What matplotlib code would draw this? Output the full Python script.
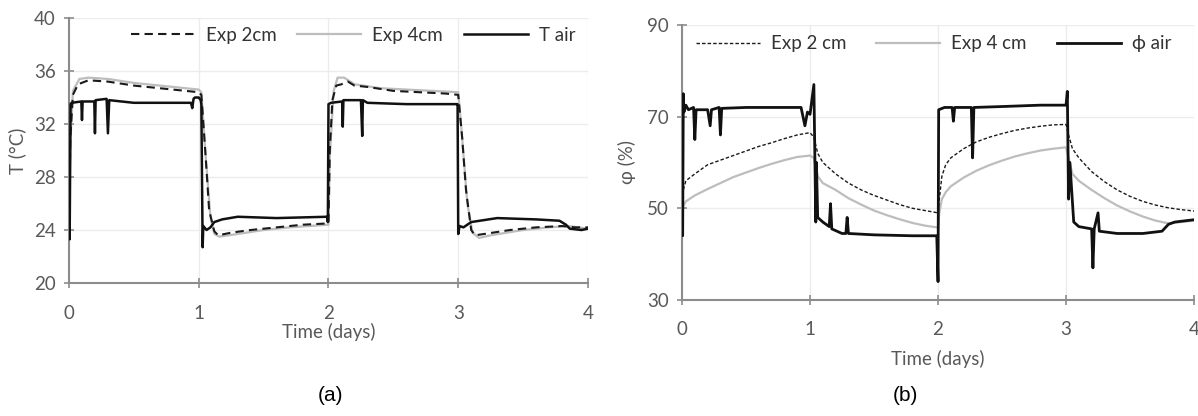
import matplotlib.pyplot as plt

plt.rcParams["font.family"] = ["Lato", "DejaVu Sans"]

# ---- (a) temperature ----
tair_t = [0, 0.005, 0.012, 0.02, 0.095, 0.1, 0.105, 0.195, 0.2, 0.205, 0.29, 0.3, 0.31,
          0.5, 0.7, 0.94, 0.95, 0.96, 0.97, 1.0, 1.015, 1.02, 1.03, 1.035, 1.06, 1.09,
          1.12, 1.18, 1.3, 1.6, 1.99, 1.995, 2.0, 2.02, 2.105, 2.11, 2.115, 2.25, 2.26,
          2.265, 2.3, 2.6, 2.99, 2.995, 3.0, 3.01, 3.04, 3.1, 3.3, 3.6, 3.78, 3.83,
          3.86, 3.95, 4.0]
tair_v = [24.0, 23.3, 33.5, 33.6, 33.7, 32.3, 33.7, 33.7, 31.3, 33.8, 33.9, 31.3, 33.8,
          33.6, 33.6, 33.6, 33.2, 33.9, 34.0, 34.0, 33.8, 33.5, 22.7, 24.3, 24.0, 24.2,
          24.6, 24.8, 25.0, 24.9, 25.0, 24.6, 33.5, 33.6, 33.7, 31.8, 33.8, 33.8, 31.1,
          33.8, 33.6, 33.5, 33.5, 33.5, 23.7, 24.3, 24.2, 24.6, 24.9, 24.8, 24.7, 24.4,
          24.1, 24.0, 24.1]

exp2_t = [0, 0.01, 0.03, 0.07, 0.15, 0.3, 0.5, 0.7, 0.9, 1.0, 1.02, 1.05, 1.08, 1.12,
          1.15, 1.25, 1.4, 1.6, 1.8, 2.0, 2.01, 2.03, 2.06, 2.1, 2.15, 2.2, 2.3, 2.5,
          2.7, 2.9, 3.0, 3.03, 3.06, 3.1, 3.13, 3.2, 3.4, 3.6, 3.8, 3.9, 4.0]
exp2_v = [24.0, 31.0, 34.2, 35.0, 35.3, 35.2, 34.9, 34.7, 34.5, 34.4, 34.2, 30.0, 25.5,
          23.9, 23.6, 23.8, 24.0, 24.2, 24.4, 24.5, 30.0, 33.8, 34.9, 35.0, 35.2, 34.9,
          34.8, 34.5, 34.4, 34.3, 34.2, 31.0, 27.0, 24.0, 23.6, 23.7, 24.0, 24.2, 24.3,
          24.2, 24.2]

exp4_t = [0, 0.01, 0.03, 0.08, 0.15, 0.3, 0.5, 0.7, 0.9, 1.0, 1.02, 1.05, 1.09, 1.12,
          1.16, 1.3, 1.5, 1.7, 2.0, 2.01, 2.04, 2.07, 2.12, 2.2, 2.4, 2.6, 2.8, 3.0,
          3.03, 3.07, 3.11, 3.16, 3.25, 3.5, 3.7, 3.85, 4.0]
exp4_v = [24.0, 30.5, 34.5, 35.4, 35.5, 35.4, 35.1, 34.9, 34.7, 34.6, 34.4, 30.0, 25.0,
          23.7, 23.5, 23.7, 24.0, 24.2, 24.4, 29.5, 34.5, 35.5, 35.5, 35.0, 34.7, 34.6,
          34.5, 34.4, 31.0, 26.0, 23.8, 23.4, 23.6, 24.0, 24.2, 24.3, 24.1]

# ---- (b) relative humidity ----
rair_t = [0, 0.005, 0.01, 0.015, 0.03, 0.05, 0.09, 0.1, 0.11, 0.2, 0.22, 0.23, 0.29,
          0.3, 0.31, 0.5, 0.7, 0.93, 0.96, 0.98, 1.0, 1.03, 1.045, 1.05, 1.06, 1.1,
          1.15, 1.16, 1.17, 1.25, 1.28, 1.29, 1.3, 1.5, 1.8, 1.99, 2.0, 2.005, 2.05,
          2.11, 2.12, 2.13, 2.26, 2.27, 2.28, 2.5, 2.8, 3.0, 3.01, 3.02, 3.03, 3.06,
          3.1, 3.2, 3.21, 3.22, 3.25, 3.26, 3.4, 3.6, 3.75, 3.8, 3.85, 4.0]
rair_v = [48, 44, 75, 71, 72.5, 71.5, 72, 65, 71.5, 71.5, 68, 71.5, 72, 66, 71.8, 72,
          72, 72, 68, 71, 70.5, 77, 47, 60, 48, 47, 46, 51, 45.5, 44.5, 44.5, 48, 44.5,
          44.2, 44, 44, 34, 71.5, 72, 72, 69, 72, 72, 61, 72, 72.2, 72.5, 72.5, 75.5,
          52, 60, 47, 46, 45.5, 37, 45.5, 49, 45, 44.5, 44.5, 45, 46.5, 47, 47.5]

rh2_t = [0, 0.01, 0.03, 0.1, 0.2, 0.3, 0.4, 0.5, 0.6, 0.7, 0.8, 0.9, 1.0, 1.03, 1.06,
         1.1, 1.2, 1.3, 1.4, 1.5, 1.6, 1.7, 1.8, 1.9, 2.0, 2.01, 2.03, 2.06, 2.1, 2.2,
         2.3, 2.4, 2.5, 2.6, 2.7, 2.8, 2.9, 3.0, 3.02, 3.05, 3.1, 3.2, 3.3, 3.4, 3.5,
         3.6, 3.7, 3.8, 3.9, 4.0]
rh2_v = [48, 54, 56, 57.5, 59.5, 60.5, 61.5, 62.5, 63.5, 64.3, 65.2, 66, 66.5, 65.5, 62,
         60, 57.5, 55.5, 54, 52.8, 51.8, 50.8, 50, 49.5, 49, 52, 57, 59.5, 61, 63, 64.5,
         65.5, 66.3, 67, 67.5, 67.9, 68.2, 68.3, 66, 63, 61, 58, 55.8, 54, 52.6, 51.5,
         50.7, 50.1, 49.7, 49.4]

rh4_t = [0, 0.01, 0.03, 0.1, 0.2, 0.3, 0.4, 0.5, 0.6, 0.7, 0.8, 0.9, 1.0, 1.03, 1.06,
         1.1, 1.2, 1.3, 1.4, 1.5, 1.6, 1.7, 1.8, 1.9, 2.0, 2.01, 2.03, 2.06, 2.1, 2.2,
         2.3, 2.4, 2.5, 2.6, 2.7, 2.8, 2.9, 3.0, 3.02, 3.05, 3.1, 3.2, 3.3, 3.4, 3.5,
         3.6, 3.7, 3.8, 3.9, 4.0]
rh4_v = [48, 50.5, 51.5, 52.8, 54.2, 55.5, 56.8, 57.8, 58.8, 59.7, 60.5, 61.2, 61.5, 61.0,
         57, 55.5, 54, 52.2, 50.8, 49.5, 48.5, 47.6, 46.8, 46.2, 45.8, 49, 52, 53.5, 54.8,
         56.7, 58.2, 59.4, 60.4, 61.3, 62, 62.6, 63, 63.3, 61, 57.5, 56, 54, 52.2, 50.6,
         49.3, 48.2, 47.3, 46.7, 47.0, 47.3]

gray = "#bdbdbd"
axis_gray = "#8c8c8c"
text_gray = "#595959"
fs = 13.5

fig = plt.figure(figsize=(11.98, 4.16), dpi=100)
ax1 = fig.add_axes([0.0576, 0.3197, 0.4332, 0.637])
ax2 = fig.add_axes([0.5693, 0.279, 0.4274, 0.661])


def style(ax, ylim, yticks):
    ax.set_xlim(0, 4)
    ax.set_ylim(*ylim)
    ax.set_xticks([0, 1, 2, 3, 4])
    ax.set_yticks(yticks)
    ax.grid(True, color="#ececec", lw=1)
    ax.set_axisbelow(True)
    for s in ["top", "right"]:
        ax.spines[s].set_visible(False)
    for s in ["left", "bottom"]:
        ax.spines[s].set_color(axis_gray)
        ax.spines[s].set_linewidth(1.5)
    ax.tick_params(direction="inout", length=7, width=1.2, color=axis_gray,
                   labelsize=fs, labelcolor=text_gray)
    ax.tick_params(axis="y", pad=6)
    ax.tick_params(axis="x", pad=12)


style(ax1, (20, 40), [20, 24, 28, 32, 36, 40])
ax1.plot(exp4_t, exp4_v, color=gray, lw=1.6, label="Exp 4cm", zorder=2)
ax1.plot(exp2_t, exp2_v, color="#1a1a1a", lw=1.5, dashes=(4, 2.5), label="Exp 2cm", zorder=3)
ax1.plot(tair_t, tair_v, color="#111111", lw=1.8, label="T air", zorder=4)
ax1.set_ylabel("T (°C)", fontsize=fs, color=text_gray, labelpad=6)
ax1.set_xlabel("Time (days)", fontsize=fs, color=text_gray, labelpad=1)
h, l = ax1.get_legend_handles_labels()
order = [1, 0, 2]
ax1.legend([h[i] for i in order], [l[i] for i in order], ncol=3, loc="upper right",
           bbox_to_anchor=(0.99, 0.995), frameon=False, fontsize=fs, handlelength=3.4,
           handletextpad=0.6, columnspacing=1.1, borderaxespad=0, labelcolor="#333333")

style(ax2, (30, 90), [30, 50, 70, 90])
ax2.plot(rh4_t, rh4_v, color=gray, lw=1.6, label="Exp 4 cm", zorder=2)
ax2.plot(rh2_t, rh2_v, color="#1a1a1a", lw=1.0, dashes=(2.5, 1.5), label="Exp 2 cm", zorder=3)
ax2.plot(rair_t, rair_v, color="#111111", lw=2.0, label="ϕ air", zorder=4)
ax2.set_ylabel("φ (%)", fontsize=fs, color=text_gray, labelpad=8)
ax2.set_xlabel("Time (days)", fontsize=fs, color=text_gray, labelpad=8)
h, l = ax2.get_legend_handles_labels()
ax2.legend([h[i] for i in order], [l[i] for i in order], ncol=3, loc="upper right",
           bbox_to_anchor=(0.97, 0.99), frameon=False, fontsize=fs, handlelength=3.4,
           handletextpad=0.6, columnspacing=1.6, borderaxespad=0, labelcolor="#333333")

fig.text(0.2755, 0.05, "(a)", fontsize=15, family="Liberation Sans", ha="center", va="center")
fig.text(0.7555, 0.05, "(b)", fontsize=15, family="Liberation Sans", ha="center", va="center")

fig.savefig("out.png", dpi=100)
